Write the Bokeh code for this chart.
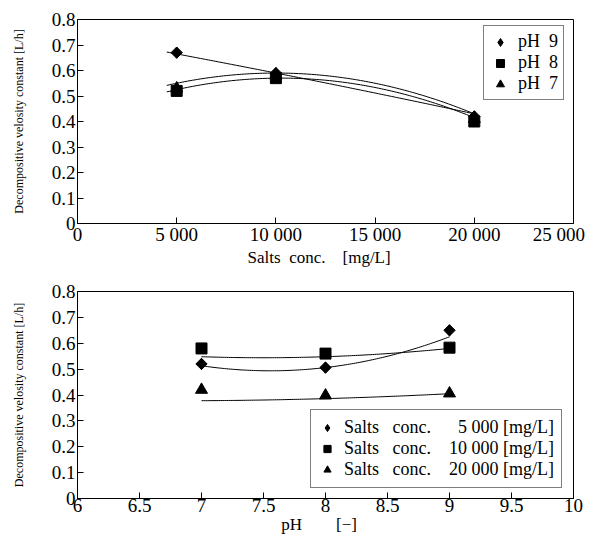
import numpy as np
from bokeh.plotting import figure
from bokeh.models import Range1d, FixedTicker, Legend, LegendItem
from bokeh.layouts import column
from bokeh.embed import file_html
from bokeh.resources import INLINE

FONT = "Liberation Serif"
NB = "\u00a0"

# ---------------- data: top chart (k vs salts concentration) ----------------
salts = [5000, 10000, 20000]
ph9_k = [0.67, 0.59, 0.42]
ph8_k = [0.52, 0.57, 0.40]
ph7_k = [0.53, 0.58, 0.41]
# fitted curve values read at the same concentrations
ph9_fit = [0.665, 0.59, 0.43]
ph8_fit = [0.525, 0.57, 0.415]
ph7_fit = [0.55, 0.59, 0.43]
salts_fit_span = [4500, 20000]

# ---------------- data: bottom chart (k vs pH) ----------------
ph = [7, 8, 9]
s5000_k = [0.52, 0.506, 0.65]
s10000_k = [0.58, 0.56, 0.583]
s20000_k = [0.42, 0.398, 0.406]
s5000_fit = [0.513, 0.506, 0.625]
s10000_fit = [0.548, 0.548, 0.58]
s20000_fit = [0.378, 0.386, 0.405]
ph_fit_span = [7, 9]

# ---------------- ticks ----------------
y_ticks = [0, 0.1, 0.2, 0.3, 0.4, 0.5, 0.6, 0.7, 0.8]
y_tick_labels = ["0", "0.1", "0.2", "0.3", "0.4", "0.5", "0.6", "0.7", "0.8"]
x1_ticks = [0, 5000, 10000, 15000, 20000, 25000]
x1_tick_labels = ["0", "5" + NB + "000", "10" + NB + "000", "15" + NB + "000",
                  "20" + NB + "000", "25" + NB + "000\u2002"]
x2_ticks = [6, 6.5, 7, 7.5, 8, 8.5, 9, 9.5, 10]
x2_tick_labels = ["6", "6.5", "7", "7.5", "8", "8.5", "9", "9.5", "10"]

y_title = "Decompositive velosity constant [L/h]"
x1_title = "Salts" + NB * 2 + "conc." + NB * 4 + "[mg/L]" + NB * 3
x2_title = "pH" + NB * 8 + "[\u2212]" + NB * 3
legend1_labels = ["pH" + NB * 2 + "9", "pH" + NB * 2 + "8", "pH" + NB * 2 + "7"]
legend2_labels = ["Salts" + NB * 3 + "conc." + NB * 6 + "5" + NB + "000" + NB + "[mg/L]",
                  "Salts" + NB * 3 + "conc." + NB * 4 + "10" + NB + "000" + NB + "[mg/L]",
                  "Salts" + NB * 3 + "conc." + NB * 4 + "20" + NB + "000" + NB + "[mg/L]"]


def fit_curve(xs, ys, span):
    coef = np.polyfit(xs, ys, 2)
    xx = np.linspace(span[0], span[1], 120)
    return xx, np.polyval(coef, xx)


def style(p, ticks_x, labels_x, xtitle):
    p.outline_line_color = "black"
    p.outline_line_width = 1
    p.xgrid.visible = False
    p.ygrid.visible = False
    p.background_fill_color = "white"
    p.border_fill_color = "white"
    p.xaxis.ticker = FixedTicker(ticks=ticks_x)
    p.xaxis.major_label_overrides = dict(zip(ticks_x, labels_x))
    p.yaxis.ticker = FixedTicker(ticks=y_ticks)
    p.yaxis.major_label_overrides = dict(zip(y_ticks, y_tick_labels))
    p.xaxis.axis_label = xtitle
    p.yaxis.axis_label = y_title
    for ax in (p.xaxis[0], p.yaxis[0]):
        ax.axis_line_color = "black"
        ax.axis_line_width = 1
        ax.major_tick_line_color = "black"
        ax.major_tick_in = 6
        ax.major_tick_out = 0
        ax.minor_tick_line_color = None
        ax.major_label_text_font = FONT
        ax.major_label_text_font_size = "19px"
        ax.major_label_text_color = "black"
        ax.axis_label_text_font = FONT
        ax.axis_label_text_font_style = "normal"
        ax.axis_label_text_color = "black"
    p.xaxis.major_label_standoff = 0
    p.xaxis.axis_label_standoff = 0
    p.xaxis.axis_label_text_font_size = "17px"
    p.yaxis.major_label_standoff = 2
    p.yaxis.axis_label_standoff = 23
    p.yaxis.axis_label_text_font_size = "12px"


def make_legend(items, loc, glyph_w, glyph_h, standoff, padding):
    lg = Legend(items=items, location=loc)
    lg.label_text_font = FONT
    lg.label_text_font_size = "18px"
    lg.label_text_color = "black"
    lg.border_line_color = "black"
    lg.border_line_width = 1
    lg.background_fill_color = "white"
    lg.background_fill_alpha = 1
    lg.padding = padding
    lg.margin = 0
    lg.spacing = 0
    lg.glyph_width = glyph_w
    lg.glyph_height = glyph_h
    lg.label_height = glyph_h
    lg.label_standoff = standoff
    return lg


# ---------------- top figure ----------------
p1 = figure(width=594, height=270, output_backend="svg", toolbar_location=None,
            x_range=Range1d(0, 25000), y_range=Range1d(0, 0.8),
            min_border_left=77, min_border_right=21, min_border_top=19, min_border_bottom=47)
style(p1, x1_ticks, x1_tick_labels, x1_title)

for fit in (ph7_fit, ph8_fit, ph9_fit):
    xx, yy = fit_curve(salts, fit, salts_fit_span)
    p1.line(xx, yy, line_color="black", line_width=1)

r7 = p1.scatter(salts, ph7_k, marker="triangle", size=12, color="black")
r8 = p1.scatter(salts, ph8_k, marker="square", size=11, color="black")
r9 = p1.scatter(salts, ph9_k, marker="diamond", size=11, color="black")
p1.scatter(salts, ph9_k, marker="square", angle=np.pi / 4, size=8, color="black")

lg1 = make_legend([LegendItem(label=legend1_labels[0], renderers=[r9]),
                   LegendItem(label=legend1_labels[1], renderers=[r8]),
                   LegendItem(label=legend1_labels[2], renderers=[r7])],
                  (406, 123), 22, 20, 7, 5)
p1.add_layout(lg1)

# ---------------- bottom figure ----------------
p2 = figure(width=594, height=273, output_backend="svg", toolbar_location=None,
            x_range=Range1d(6, 10), y_range=Range1d(0, 0.8),
            min_border_left=77, min_border_right=21, min_border_top=21, min_border_bottom=45)
style(p2, x2_ticks, x2_tick_labels, x2_title)

for fit in (s5000_fit, s10000_fit, s20000_fit):
    xx, yy = fit_curve(ph, fit, ph_fit_span)
    p2.line(xx, yy, line_color="black", line_width=1)

q20 = p2.scatter(ph, s20000_k, marker="triangle", size=12, color="black")
q10 = p2.scatter(ph, s10000_k, marker="square", size=11, color="black")
q5 = p2.scatter(ph, s5000_k, marker="diamond", size=11, color="black")
p2.scatter(ph, s5000_k, marker="square", angle=np.pi / 4, size=8, color="black")

lg2 = make_legend([LegendItem(label=legend2_labels[0], renderers=[q5]),
                   LegendItem(label=legend2_labels[1], renderers=[q10]),
                   LegendItem(label=legend2_labels[2], renderers=[q20])],
                  (233, 10), 18, 21, 8, 7)
p2.add_layout(lg2)

layout = column(p1, p2, spacing=0)
open("out.html", "w").write(file_html(layout, INLINE))
